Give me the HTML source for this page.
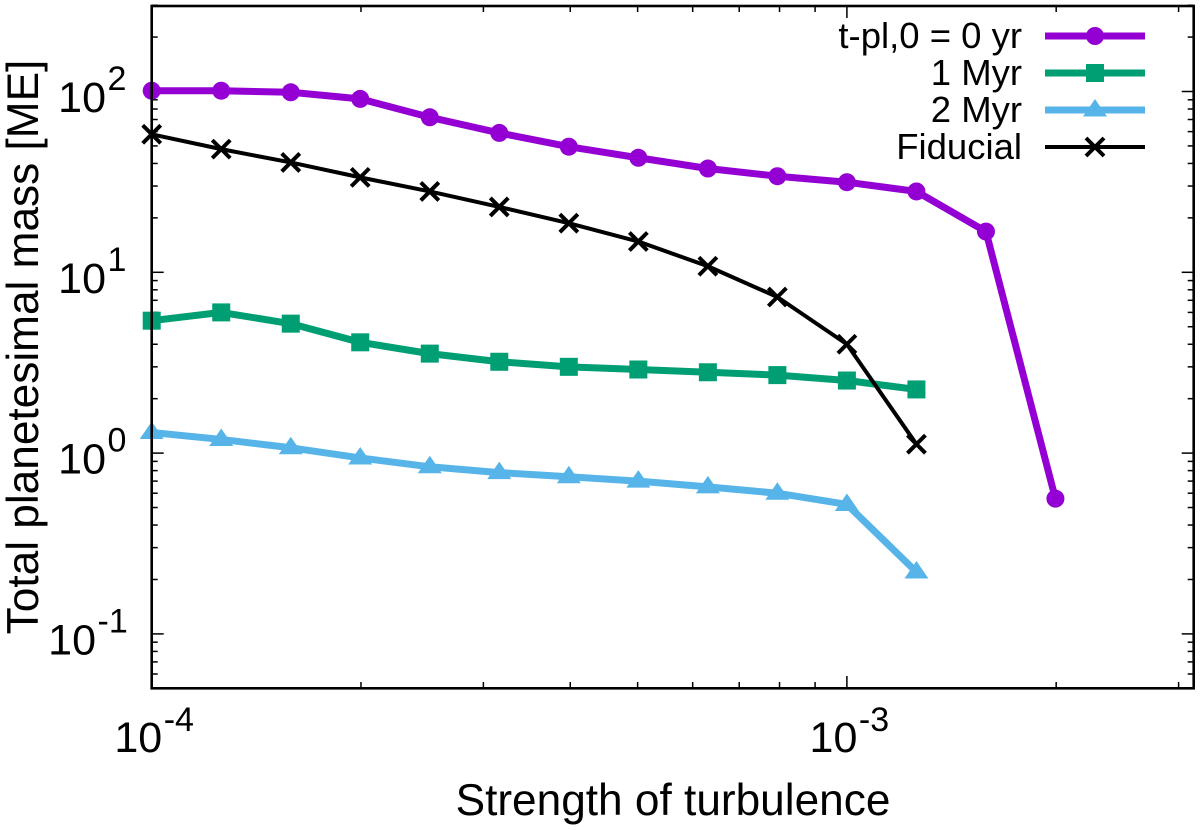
<!DOCTYPE html>
<html lang="en">
<head>
<meta charset="utf-8">
<title>Total planetesimal mass vs strength of turbulence</title>
<style>
html,body{margin:0;padding:0;background:#fff;}
svg{display:block;font-family:"Liberation Sans",sans-serif;fill:#000;}
</style>
</head>
<body>
<svg id="chart" width="1200" height="830" viewBox="0 0 1200 830" xmlns="http://www.w3.org/2000/svg">
  <rect x="0" y="0" width="1200" height="830" fill="#fff"/>
  <g id="ticks"></g>
  <g id="tick-labels"></g>
  <g id="series"></g>
  <rect x="151.7" y="6" width="1042" height="682.3" fill="none" stroke="#000" stroke-width="2.6"/>
  <text x="673" y="815" font-size="44.2" text-anchor="middle">Strength of turbulence</text>
  <text transform="translate(38,347) rotate(-90)" font-size="44.2" text-anchor="middle">Total planetesimal mass [ME]</text>
  <g id="legend"></g>
</svg>
<script>
const alphaValues = [1e-4, 1.259e-4, 1.585e-4, 1.995e-4, 2.512e-4, 3.162e-4, 3.981e-4, 5.012e-4, 6.31e-4, 7.943e-4, 1e-3, 1.259e-3, 1.585e-3, 1.995e-3];
const massZeroYr = [101, 101, 99, 91, 72, 59, 49.5, 43, 37.5, 34, 31.5, 28, 16.8, 0.56];
const massOneMyr = [5.4, 6.0, 5.2, 4.1, 3.55, 3.2, 3.0, 2.9, 2.8, 2.7, 2.52, 2.25];
const massTwoMyr = [1.3, 1.19, 1.07, 0.94, 0.84, 0.78, 0.74, 0.7, 0.65, 0.6, 0.52, 0.22];
const massFiducial = [58, 48, 40.5, 33.5, 28, 23, 18.7, 14.8, 10.8, 7.3, 4.0, 1.12];
const xTickExponents = [-4, -3];
const yTickExponents = [-1, 0, 1, 2];
const legendLabels = ["t-pl,0 = 0 yr", "1 Myr", "2 Myr", "Fiducial"];

const NS = "http://www.w3.org/2000/svg";
const xLeft = 151.7, xDecade = 695.2;
const yTop100 = 91.5, yDecade = 180.8;
const xMin = 1e-4, xMax = 3.162e-3, yMin = 0.05, yMax = 300;
function xScale(v) { return xLeft + (Math.log10(v) + 4) * xDecade; }
function yScale(v) { return yTop100 + (2 - Math.log10(v)) * yDecade; }
function make(tag, attrs, parent) {
  const el = document.createElementNS(NS, tag);
  for (const k in attrs) el.setAttribute(k, attrs[k]);
  parent.appendChild(el);
  return el;
}

const ticksG = document.getElementById("ticks");
const labelsG = document.getElementById("tick-labels");
const seriesG = document.getElementById("series");
const legendG = document.getElementById("legend");

function tickLine(x1, y1, x2, y2, parent) {
  const t = make("line", {x1: x1, y1: y1, x2: x2, y2: y2, stroke: "#000", "stroke-width": 1.5}, parent);
  
  
}
for (let e = -4; e <= -3; e++) {
  for (let m = 1; m <= 9; m++) {
    const v = m * Math.pow(10, e);
    if (v > xMax * 1.001) continue;
    const len = m === 1 ? 12 : 6;
    const x = xScale(v);
    tickLine(x, 688, x, 688 - len, ticksG);
    tickLine(x, 6, x, 6 + len, ticksG);
  }
}
for (let e = -2; e <= 2; e++) {
  for (let m = 1; m <= 9; m++) {
    const v = m * Math.pow(10, e);
    if (v < yMin * 0.999 || v > yMax * 1.001) continue;
    const len = m === 1 ? 12 : 6;
    const y = yScale(v);
    tickLine(151.7, y, 151.7 + len, y, ticksG);
    tickLine(1193.7, y, 1193.7 - len, y, ticksG);
  }
}

function powerLabel(rightX, baseY, rise, exp, parent, name) {
  const g = make("g", {}, parent);
  
  
  make("text", {x: rightX, y: baseY, "font-size": 43, "text-anchor": "end"}, g).textContent = "10";
  make("text", {x: rightX + 1.5, y: baseY - rise, "font-size": 34}, g).textContent = String(exp);
}
xTickExponents.forEach(function (e) {
  const x = xScale(Math.pow(10, e));
  powerLabel(x + 10.5, 752, 21, e, labelsG, 'x-tick-label');
});
yTickExponents.forEach(function (e) {
  const y = yScale(Math.pow(10, e));
  const right = e < 0 ? 96 : 106;
  powerLabel(right, y + 20.5, 22, e, labelsG, 'y-tick-label');
});

function drawMarker(kind, x, y, color, parent) {
  let m;
  if (kind === "circle") {
    m = make("circle", {cx: x, cy: y, r: 9, fill: color}, parent);
  } else if (kind === "square") {
    m = make("rect", {x: x - 9, y: y - 9, width: 18, height: 18, fill: color}, parent);
  } else if (kind === "triangle") {
    m = make("polygon", {points: (x - 12) + "," + (y + 6.5) + " " + (x + 12) + "," + (y + 6.5) + " " + x + "," + (y - 11), fill: color}, parent);
  } else {
    m = make("path", {d: "M" + (x - 9) + " " + (y - 9) + "L" + (x + 9) + " " + (y + 9) + "M" + (x - 9) + " " + (y + 9) + "L" + (x + 9) + " " + (y - 9), stroke: color, "stroke-width": 4, fill: "none"}, parent);
  }
  
  
}

function drawSeries(values, color, width, kind, name) {
  const g = make("g", {}, seriesG);
  
  
  const pts = values.map(function (v, i) { return xScale(alphaValues[i]) + "," + yScale(v); }).join(" ");
  const line = make("polyline", {points: pts, fill: "none", stroke: color, "stroke-width": width, "stroke-linejoin": "round"}, g);
  
  
  values.forEach(function (v, i) { drawMarker(kind, xScale(alphaValues[i]), yScale(v), color, g); });
}
const C_PURPLE = "#9400d3", C_GREEN = "#009e73", C_BLUE = "#56b4e9", C_BLACK = "#000000";
drawSeries(massZeroYr, C_PURPLE, 7, "circle", 'series-0-yr');
drawSeries(massOneMyr, C_GREEN, 7, "square", 'series-1-myr');
drawSeries(massTwoMyr, C_BLUE, 7, "triangle", 'series-2-myr');
drawSeries(massFiducial, C_BLACK, 4, "cross", 'series-fiducial');

const legendColors = [C_PURPLE, C_GREEN, C_BLUE, C_BLACK];
const legendWidths = [7, 7, 7, 4];
const legendKinds = ["circle", "square", "triangle", "cross"];
legendLabels.forEach(function (label, i) {
  const y = 36 + i * 37;
  const g = make("g", {}, legendG);
  
  
  make("text", {x: 1022, y: y + 12, "font-size": 36.5, "text-anchor": "end"}, g).textContent = label;
  make("line", {x1: 1045, y1: y, x2: 1145, y2: y, stroke: legendColors[i], "stroke-width": legendWidths[i]}, g);
  drawMarker(legendKinds[i], 1095, y, legendColors[i], g);
});
</script>
</body>
</html>
